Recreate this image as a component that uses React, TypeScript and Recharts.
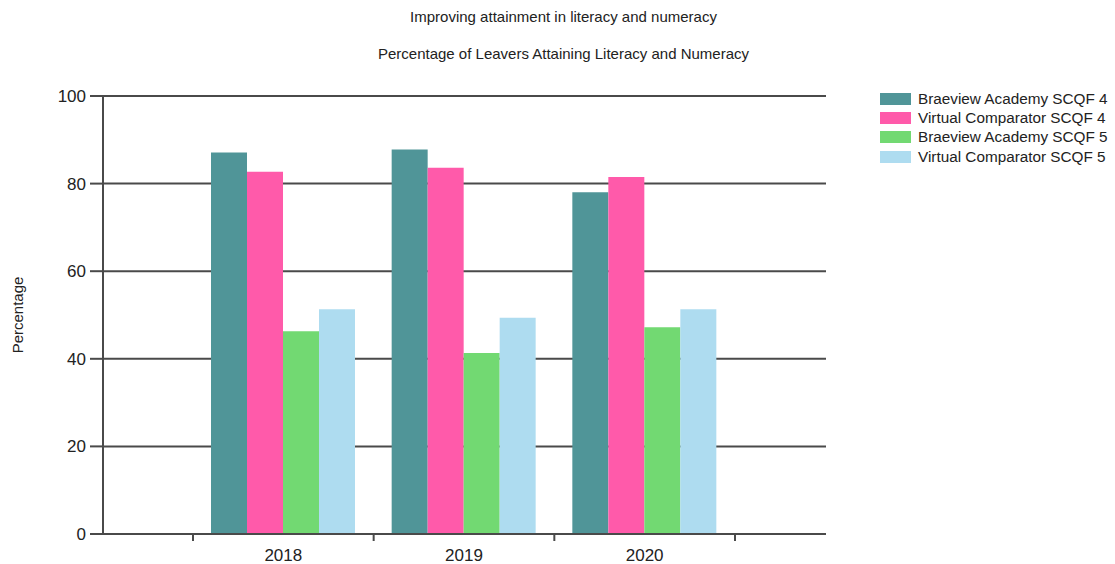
import React from 'react';
import { BarChart, Bar, XAxis, YAxis, CartesianGrid } from 'recharts';

// values
const years = ['2018', '2019', '2020'];
const braeviewScqf4 = [87.1, 87.8, 78.0];
const comparatorScqf4 = [82.7, 83.6, 81.5];
const braeviewScqf5 = [46.3, 41.3, 47.2];
const comparatorScqf5 = [51.3, 49.4, 51.3];
const yTicks = [0, 20, 40, 60, 80, 100];

const series = [
  { key: 'b4', name: 'Braeview Academy SCQF 4', color: '#509598', values: braeviewScqf4 },
  { key: 'c4', name: 'Virtual Comparator SCQF 4', color: '#ff5aaa', values: comparatorScqf4 },
  { key: 'b5', name: 'Braeview Academy SCQF 5', color: '#72d972', values: braeviewScqf5 },
  { key: 'c5', name: 'Virtual Comparator SCQF 5', color: '#aedcf0', values: comparatorScqf5 },
];

const data = years.map((year, i) => {
  const row: Record<string, string | number> = { year };
  series.forEach((s) => {
    row[s.key] = s.values[i];
  });
  return row;
});

const FONT = '"Liberation Sans", Arial, sans-serif';
const LINE = '#4a4a4a';

// category tick: label in the middle, tick marks on the band edges
const YearTick = (props: any) => {
  const { x, y, payload, index, visibleTicksCount } = props;
  const half = payload.offset || 0;
  const last = index === visibleTicksCount - 1;
  return (
    <g>
      <line x1={x - half} x2={x - half} y1={y} y2={y + 7} stroke={LINE} strokeWidth={2} />
      {last && <line x1={x + half} x2={x + half} y1={y} y2={y + 7} stroke={LINE} strokeWidth={2} />}
      <text x={x} y={y + 27} textAnchor="middle" fontSize={17} fill="#222" fontFamily={FONT}>
        {payload.value}
      </text>
    </g>
  );
};

const App: React.FC = () => {
  return (
    <div style={{ position: 'absolute', left: 0, top: 0, width: 1115, height: 564, background: '#fff', fontFamily: FONT }}>
      <div style={{ position: 'absolute', left: 0, top: 8, width: 1127, textAlign: 'center', fontSize: 15, color: '#222' }}>
        Improving attainment in literacy and numeracy
      </div>
      <div style={{ position: 'absolute', left: 0, top: 45, width: 1127, textAlign: 'center', fontSize: 15, color: '#222' }}>
        Percentage of Leavers Attaining Literacy and Numeracy
      </div>

      <BarChart
        width={1115}
        height={564}
        data={data}
        margin={{ top: 96, right: 289, bottom: 0, left: 0 }}
        barCategoryGap={18}
        barGap={0}
      >
        <CartesianGrid vertical={false} stroke={LINE} strokeWidth={2} />
        <XAxis
          dataKey="year"
          height={30}
          padding={{ left: 90, right: 91 }}
          axisLine={{ stroke: LINE, strokeWidth: 2 }}
          tickLine={false}
          tickSize={0}
          tickMargin={0}
          tick={<YearTick />}
        />
        <YAxis
          width={103}
          domain={[0, 100]}
          ticks={yTicks}
          interval={0}
          axisLine={{ stroke: LINE, strokeWidth: 2 }}
          tickLine={{ stroke: LINE, strokeWidth: 2 }}
          tickSize={13}
          tickMargin={4}
          tick={{ fontSize: 17, fill: '#222', fontFamily: FONT }}
          label={{
            value: 'Percentage',
            angle: -90,
            position: 'insideLeft',
            offset: 18,
            style: { textAnchor: 'middle', fontSize: 15, fill: '#222', fontFamily: FONT },
          }}
        />
        {series.map((s) => (
          <Bar key={s.key} dataKey={s.key} name={s.name} fill={s.color} isAnimationActive={false} />
        ))}
      </BarChart>

      <div style={{ position: 'absolute', left: 880, top: 89 }}>
        {series.map((s) => (
          <div key={s.key} style={{ display: 'flex', alignItems: 'center', height: 19.3 }}>
            <div style={{ width: 31, height: 12, background: s.color, marginRight: 7 }} />
            <span style={{ fontSize: 15.3, color: '#222', whiteSpace: 'nowrap' }}>{s.name}</span>
          </div>
        ))}
      </div>
    </div>
  );
};

export default App;
